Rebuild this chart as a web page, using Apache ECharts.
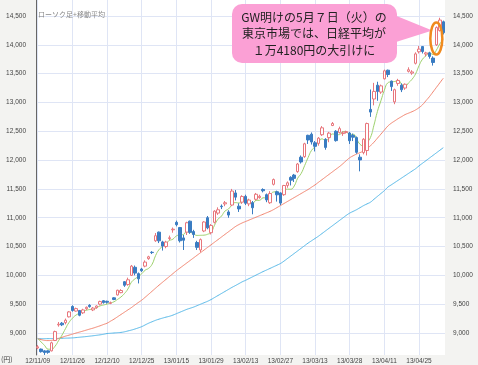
<!DOCTYPE html>
<html><head><meta charset="utf-8">
<script src="https://cdn.jsdelivr.net/npm/echarts@6/dist/echarts.min.js"></script>
<style>html,body{margin:0;padding:0;background:#f3f3f1;}#c{width:478px;height:365px;}</style>
</head><body><div id="c"></div>
<script>
const dates = ['12/11/09','12/11/12','12/11/13','12/11/14','12/11/15','12/11/16','12/11/19','12/11/20','12/11/21','12/11/22','12/11/26','12/11/27','12/11/28','12/11/29','12/11/30',
'12/12/03','12/12/04','12/12/05','12/12/06','12/12/07','12/12/10','12/12/11','12/12/12','12/12/13','12/12/14','12/12/17','12/12/18','12/12/19','12/12/20','12/12/21','12/12/25','12/12/26','12/12/27','12/12/28',
'13/01/04','13/01/07','13/01/08','13/01/09','13/01/10','13/01/11','13/01/15','13/01/16','13/01/17','13/01/18','13/01/21','13/01/22','13/01/23','13/01/24','13/01/25','13/01/28','13/01/29','13/01/30','13/01/31',
'13/02/01','13/02/04','13/02/05','13/02/06','13/02/07','13/02/08','13/02/12','13/02/13','13/02/14','13/02/15','13/02/18','13/02/19','13/02/20','13/02/21','13/02/22','13/02/25','13/02/26','13/02/27','13/02/28',
'13/03/01','13/03/04','13/03/05','13/03/06','13/03/07','13/03/08','13/03/11','13/03/12','13/03/13','13/03/14','13/03/15','13/03/18','13/03/19','13/03/21','13/03/22','13/03/25','13/03/26','13/03/27','13/03/28','13/03/29',
'13/04/01','13/04/02','13/04/03','13/04/04','13/04/05','13/04/08','13/04/09','13/04/10','13/04/11','13/04/12','13/04/15','13/04/16','13/04/17','13/04/18','13/04/19','13/04/22','13/04/23','13/04/24','13/04/25','13/04/26','13/04/30',
'13/05/01','13/05/02','13/05/07','13/05/08','13/05/09'];

const opens = [8740,8720,8690,8690,8690,8870,9140,9170,9180,9280,9460,9380,9390,9350,9420,
9480,9400,9440,9500,9560,9550,9515,9610,9660,9700,9890,9840,10000,10140,10030,10110,10160,10290,10400,
10600,10750,10580,10500,10640,10790,10920,10830,10650,10750,10940,10760,10570,10440,10770,11000,10740,10920,11080,
11200,11240,11100,11220,11430,11200,11270,11370,11240,11260,11320,11350,11490,11400,11260,11580,11450,11430,11400,
11560,11700,11740,11800,12050,12060,12430,12450,12300,12290,12440,12360,12390,12600,12500,12480,12460,12480,12470,12430,
12390,12050,12130,12166,12880,13060,13300,13180,13410,13560,13370,13010,13330,13300,13250,13540,13510,13680,13880,13970,13840,
13860,13770,14000,14250,14400];
const closes = [8760,8676,8661,8664,8830,9024,9153,9142,9222,9366,9390,9423,9308,9400,9446,
9458,9432,9468,9545,9527,9533,9525,9581,9742,9737,9828,9923,10160,10039,9940,10080,10230,10322,10395,
10688,10599,10508,10578,10652,10801,10879,10600,10609,10913,10747,10709,10486,10620,10926,10824,10866,11114,11138,
11191,11260,11046,11463,11357,11153,11369,11251,11307,11173,11407,11372,11468,11309,11420,11662,11398,11254,11559,
11606,11652,11683,11932,11968,12283,12349,12314,12239,12381,12560,12220,12468,12635,12338,12546,12471,12494,12336,12397,
12135,12003,12362,12634,12833,13192,13192,13288,13549,13485,13275,13221,13382,13220,13316,13568,13530,13843,13926,13884,13860,
13799,13694,14300,14430,14210];
const lows = [8720,8660,8619,8640,8680,8860,9110,9120,9150,9270,9370,9370,9290,9330,9400,
9440,9380,9420,9480,9510,9510,9500,9570,9650,9690,9800,9820,9990,10000,9860,10060,10140,10270,10370,
10580,10560,10430,10470,10610,10740,10850,10570,10440,10700,10720,10650,10440,10400,10750,10800,10710,10900,11050,
11150,11200,11000,11200,11300,11100,11240,11220,11200,11060,11300,11330,11440,11270,11240,11560,11280,11220,11380,
11520,11560,11620,11780,11940,12040,12280,12270,12150,12250,12420,12180,12310,12590,12320,12460,12420,12460,12280,12330,
12110,11805,12100,12080,12750,12950,13030,13150,13400,13440,13200,12970,13290,13180,13220,13520,13480,13660,13850,13850,13800,
13760,13640,13980,14230,14180];
const highs = [8790,8730,8700,8700,8850,9040,9190,9190,9250,9380,9480,9440,9400,9420,9460,
9500,9450,9480,9560,9570,9560,9545,9620,9750,9760,9900,9960,10180,10170,10050,10130,10260,10340,10420,
10734,10760,10600,10600,10690,10830,10950,10840,10700,10930,10950,10790,10600,10640,10940,11030,10890,11130,11180,
11230,11290,11130,11500,11480,11250,11390,11400,11330,11290,11430,11400,11510,11420,11460,11680,11470,11440,11570,
11630,11720,11760,11950,12080,12300,12440,12480,12330,12400,12590,12380,12490,12660,12520,12580,12500,12510,12490,12460,
12410,12100,12380,12650,13225,13340,13360,13310,13570,13570,13380,13240,13410,13330,13330,13610,13560,13870,13980,13980,13880,
13880,13800,14320,14470,14420];

const ma5 = [8903,8843,8781,8719,8718,8771,8866,8963,9074,9181,9255,9309,9342,9377,9393,
9407,9409,9441,9470,9486,9501,9520,9542,9582,9624,9683,9762,9878,9937,9978,10028,10090,10122,10193,
10343,10447,10502,10554,10605,10628,10684,10702,10708,10760,10750,10716,10693,10695,10698,10713,10744,10870,10974,
11027,11114,11150,11220,11263,11256,11278,11319,11287,11251,11301,11302,11345,11346,11395,11446,11451,11409,11459,
11496,11494,11551,11686,11768,11904,12043,12169,12231,12313,12369,12343,12374,12453,12444,12441,12492,12497,12437,12449,
12367,12273,12247,12306,12393,12605,12843,13028,13211,13341,13358,13364,13382,13317,13283,13341,13403,13495,13637,13750,13809,
13862,13833,13907,14017,14087];
const ma25 = [8900,8885,8872,8868,8872,8885,8905,8925,8945,8962,8980,8998,9015,9032,9050,
9068,9085,9105,9125,9148,9170,9205,9240,9280,9320,9360,9400,9440,9485,9528,9570,9620,9672,9725,
9778,9830,9880,9930,9980,10030,10080,10125,10170,10215,10260,10305,10350,10395,10440,10485,10530,10575,10620,
10665,10710,10755,10800,10845,10880,10910,10935,10960,10985,11010,11035,11060,11085,11110,11140,11175,11210,11245,
11280,11315,11350,11385,11420,11455,11490,11530,11570,11615,11660,11705,11750,11795,11840,11885,11935,11990,12040,12075,
12105,12130,12160,12200,12250,12310,12380,12450,12520,12590,12640,12680,12720,12755,12790,12815,12840,12870,12910,12960,13030,
13100,13180,13260,13340,13420];
const ma75 = [8900,8900,8901,8902,8903,8905,8906,8908,8910,8912,8915,8920,8926,8932,8938,
8945,8952,8960,8968,8978,8990,8995,9000,9005,9010,9020,9035,9050,9068,9088,9110,9140,9170,9195,
9220,9240,9258,9275,9290,9310,9335,9360,9385,9410,9430,9450,9475,9500,9525,9550,9580,9615,9650,
9685,9720,9755,9790,9822,9855,9888,9915,9945,9975,10005,10035,10065,10092,10120,10148,10176,10205,10245,
10290,10335,10380,10425,10470,10515,10560,10600,10640,10680,10725,10770,10815,10860,10905,10950,10995,11040,11080,11110,
11140,11175,11210,11240,11270,11320,11370,11420,11470,11530,11570,11610,11650,11690,11730,11770,11810,11850,11900,11945,11990,
12035,12080,12125,12170,12215];

const yTicks = [9000,9500,10000,10500,11000,11500,12000,12500,13000,13500,14000,14500];
const titleText = 'ローソク足+移動平均';
const unitText = '(円)';
const noteLines = ['GW明けの5月７日（火）の','東京市場では、日経平均が','１万4180円の大引けに'];
const noteIndex = 115;

const fmt = v => String(v).replace(/\B(?=(\d{3})+(?!\d))/g, ',');
const ohlc = dates.map((d, i) => [opens[i], closes[i], lows[i], highs[i]]);

const chart = echarts.init(document.getElementById('c'), null, {renderer: 'canvas'});
const gridLine = {color: '#dfe5f5', width: 1};
const labelFont = {fontSize: 6.5, color: '#444', fontFamily: 'Liberation Sans, Arial'};

chart.setOption({
  animation: false,
  backgroundColor: '#f3f3f1',
  grid: {left: 36, right: 33, top: 0, bottom: 10, show: true, backgroundColor: '#ffffff', borderWidth: 0},
  xAxis: {
    type: 'category', data: dates, boundaryGap: true,
    axisLine: {show: false}, axisTick: {show: false},
    axisLabel: Object.assign({interval: 9, margin: 3}, labelFont),
    splitLine: {show: true, interval: 9, alignWithLabel: true, lineStyle: gridLine}
  },
  yAxis: [{
    type: 'value', position: 'left', min: 8618, max: 14778,
    axisLine: {show: true, lineStyle: {color: '#666', width: 1}},
    axisTick: {show: false, customValues: yTicks},
    axisLabel: Object.assign({customValues: yTicks, margin: 10, formatter: fmt}, labelFont),
    splitLine: {show: true, lineStyle: gridLine}
  }, {
    type: 'value', position: 'right', min: 8618, max: 14778,
    axisLine: {show: false},
    axisTick: {show: false, customValues: yTicks},
    axisLabel: Object.assign({customValues: yTicks, margin: 8, formatter: fmt}, labelFont),
    splitLine: {show: false}
  }],
  series: [
    {type: 'line', name: '75日', data: ma75, showSymbol: false, smooth: true, lineStyle: {color: '#55b8e8', width: 1}, z: 2},
    {type: 'line', name: '25日', data: ma25, showSymbol: false, smooth: true, lineStyle: {color: '#f2846f', width: 1}, z: 2},
    {type: 'line', name: '5日', data: ma5, showSymbol: false, smooth: true, lineStyle: {color: '#9dd16c', width: 1}, z: 2},
    {type: 'candlestick', name: 'ローソク足', data: ohlc, barWidth: 3, z: 3,
     itemStyle: {color: '#ffffff', color0: '#3a7cc2', borderColor: '#e8767c', borderColor0: '#3a7cc2', borderWidth: 1}}
  ]
});

const c = chart.convertToPixel({xAxisIndex: 0, yAxisIndex: 0}, [noteIndex, (highs[noteIndex] + lows[noteIndex]) / 2 - 40]);
chart.setOption({
  graphic: [
    {type: 'text', left: 38, top: 11, style: {text: titleText, fontSize: 7, fill: '#888', fontFamily: 'Noto Sans CJK JP'}},
    {type: 'text', left: 1, top: 356, style: {text: unitText, fontSize: 7, fill: '#444', fontFamily: 'Noto Sans CJK JP'}},
    {type: 'polygon', shape: {points: [[372, 6], [c[0] - 4, c[1] - 8], [396, 42]]}, style: {fill: '#fba0d5'}, z: 10},
    {type: 'rect', shape: {x: 232, y: 4, width: 165, height: 59, r: 10}, style: {fill: '#fba0d5'}, z: 10},
    {type: 'text', x: 314, y: 17, style: {text: noteLines[0], fontSize: 12, fill: '#222', align: 'center', verticalAlign: 'middle', fontFamily: 'Noto Sans CJK JP'}, z: 11},
    {type: 'text', x: 314, y: 33.5, style: {text: noteLines[1], fontSize: 12, fill: '#222', align: 'center', verticalAlign: 'middle', fontFamily: 'Noto Sans CJK JP'}, z: 11},
    {type: 'text', x: 314, y: 50, style: {text: noteLines[2], fontSize: 12, fill: '#222', align: 'center', verticalAlign: 'middle', fontFamily: 'Noto Sans CJK JP'}, z: 11},
    {type: 'ellipse', shape: {cx: c[0], cy: c[1], rx: 6, ry: 16}, style: {fill: 'none', stroke: '#f08a1e', lineWidth: 2.5}, z: 12}
  ]
});
</script></body></html>
